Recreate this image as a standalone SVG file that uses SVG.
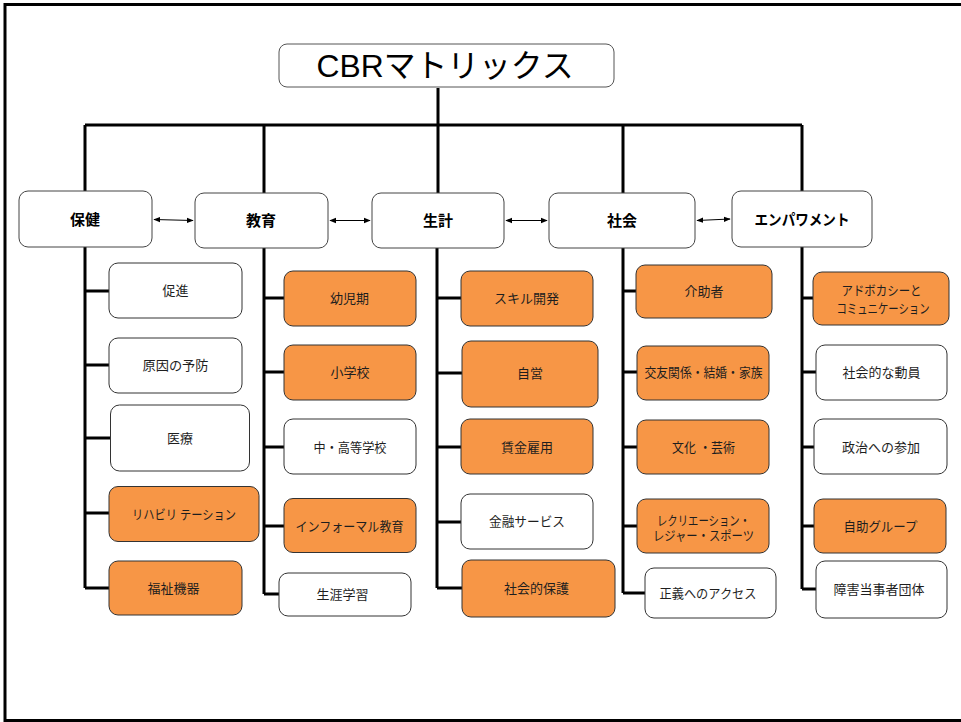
<svg xmlns="http://www.w3.org/2000/svg" width="961" height="722" viewBox="0 0 961 722">
<defs>
<style>
text{font-family:"Liberation Sans","Noto Sans CJK JP",sans-serif;text-anchor:middle;fill:#1e1e1e}
.t{font-size:13px}
.c{font-size:15px;font-weight:bold;fill:#000}
.title{font-size:32px;fill:#000}
.w{fill:#fff;stroke:#333;stroke-width:1}
.o{fill:#F79646;stroke:#333;stroke-width:1}
.cat{fill:#fff;stroke:#444;stroke-width:1}
.ln{fill:none;stroke:#000;stroke-width:3}
.ar{fill:none;stroke:#000;stroke-width:1;marker-start:url(#ah);marker-end:url(#ah)}
</style>
<marker id="ah" viewBox="0 0 10 10" refX="9" refY="5" markerWidth="7" markerHeight="7" orient="auto-start-reverse" markerUnits="userSpaceOnUse"><path d="M0,1 L10,5 L0,9 Z" fill="#000"/></marker>
</defs>
<rect x="0" y="0" width="961" height="722" fill="#fff"/>
<rect x="5" y="4.5" width="980" height="716" fill="none" stroke="#000" stroke-width="3"/>

<g id="connectors">
<path class="ln" d="M438,88 V125 M85,125 H802 M85,125 V191 M264,125 V193 M438,125 V193 M623,125 V193 M802,125 V191"/>
<path class="ln" d="M85,247 V588 M85,291 H109 M85,365 H109 M85,438 H110 M85,513 H109 M85,588 H109"/>
<path class="ln" d="M264,248 V594 M264,298 H284 M264,372 H284 M264,447 H284 M264,526 H284 M264,594 H279"/>
<path class="ln" d="M437,248 V588 M437,298 H461 M437,373 H462 M437,447 H461 M437,522 H461 M437,588 H462"/>
<path class="ln" d="M623,248 V593 M623,291 H636 M623,372 H637 M623,447 H637 M623,526 H637 M623,593 H645"/>
<path class="ln" d="M802,247 V589 M802,298 H813 M802,372 H816 M802,447 H814 M802,526 H814 M802,589 H816"/>
<path class="ar" d="M154,219.5 L193,220.5"/>
<path class="ar" d="M330,220.5 L370,220.5"/>
<path class="ar" d="M506,220.5 L547,220.5"/>
<path class="ar" d="M697,220.5 L730,219"/>
</g>

<g id="title"><rect x="279" y="44" width="335" height="43" rx="8" fill="#fff" stroke="#555" stroke-width="1"/><text class="title" x="445" y="77" textLength="257" lengthAdjust="spacingAndGlyphs">CBRマトリックス</text></g>

<g id="cat-hoken"><rect class="cat" x="19" y="191" width="133" height="56" rx="9"/><text class="c" x="85" y="224.5">保健</text></g>
<g id="cat-kyoiku"><rect class="cat" x="195" y="193" width="133" height="55" rx="9"/><text class="c" x="261" y="226">教育</text></g>
<g id="cat-seikei"><rect class="cat" x="372" y="193" width="132" height="55" rx="9"/><text class="c" x="438" y="226">生計</text></g>
<g id="cat-shakai"><rect class="cat" x="549" y="193" width="146" height="55" rx="9"/><text class="c" x="622" y="226">社会</text></g>
<g id="cat-empower"><rect class="cat" x="732" y="191" width="140" height="56" rx="9"/><text class="c" x="802" y="224.5" textLength="95" lengthAdjust="spacingAndGlyphs">エンパワメント</text></g>

<g id="n-sokushin"><rect class="w" x="109" y="263" width="133" height="55" rx="9"/><text class="t" x="175.5" y="295">促進</text></g>
<g id="n-yobou"><rect class="w" x="109" y="338" width="133" height="55" rx="9"/><text class="t" x="175.5" y="370" textLength="66" lengthAdjust="spacingAndGlyphs">原因の予防</text></g>
<g id="n-iryou"><rect class="w" x="110.5" y="405" width="139" height="66" rx="9"/><text class="t" x="180" y="442.5">医療</text></g>
<g id="n-riha"><rect class="o" x="109" y="486.5" width="150" height="55" rx="9"/><text class="t" x="184" y="518.5" textLength="104" lengthAdjust="spacingAndGlyphs">リハビリ テーション</text></g>
<g id="n-fukushi"><rect class="o" x="109" y="561" width="133" height="54" rx="9"/><text class="t" x="173.5" y="592.5">福祉機器</text></g>

<g id="n-youji"><rect class="o" x="284" y="271" width="132" height="55" rx="9"/><text class="t" x="349.5" y="303">幼児期</text></g>
<g id="n-shou"><rect class="o" x="284" y="345" width="132" height="55" rx="9"/><text class="t" x="350" y="377">小学校</text></g>
<g id="n-chuukou"><rect class="w" x="284" y="419" width="132" height="55" rx="9"/><text class="t" x="350" y="451.5" textLength="73" lengthAdjust="spacingAndGlyphs">中・高等学校</text></g>
<g id="n-informal"><rect class="o" x="284" y="498.5" width="132" height="54" rx="9"/><text class="t" x="349.5" y="530.5" textLength="108" lengthAdjust="spacingAndGlyphs">インフォーマル教育</text></g>
<g id="n-shougai"><rect class="w" x="279" y="573" width="132" height="43" rx="9"/><text class="t" x="342.5" y="599">生涯学習</text></g>

<g id="n-skill"><rect class="o" x="461" y="271" width="132" height="55" rx="9"/><text class="t" x="526.5" y="303">スキル開発</text></g>
<g id="n-jiei"><rect class="o" x="462" y="341" width="136" height="66" rx="9"/><text class="t" x="530" y="378">自営</text></g>
<g id="n-chingin"><rect class="o" x="461" y="419" width="132" height="55" rx="9"/><text class="t" x="527" y="452">賃金雇用</text></g>
<g id="n-kinyuu"><rect class="w" x="461" y="494" width="132" height="55" rx="9"/><text class="t" x="527" y="526" textLength="76" lengthAdjust="spacingAndGlyphs">金融サービス</text></g>
<g id="n-hogo"><rect class="o" x="462" y="560" width="153" height="57" rx="9"/><text class="t" x="536.5" y="593">社会的保護</text></g>

<g id="n-kaijo"><rect class="o" x="636" y="265" width="136" height="53" rx="9"/><text class="t" x="704" y="296">介助者</text></g>
<g id="n-kouyuu"><rect class="o" x="637" y="346" width="132" height="54" rx="9"/><text class="t" x="703.5" y="377" textLength="118" lengthAdjust="spacingAndGlyphs">交友関係・結婚・家族</text></g>
<g id="n-bunka"><rect class="o" x="637" y="420" width="132" height="54" rx="9"/><text class="t" x="703.5" y="452" textLength="63" lengthAdjust="spacingAndGlyphs">文化 ・芸術</text></g>
<g id="n-rec"><rect class="o" x="637" y="499" width="132" height="54" rx="9"/><text class="t" x="703.5" y="524.5" textLength="93" lengthAdjust="spacingAndGlyphs">レクリエーション・</text><text class="t" x="703.5" y="539.5" textLength="101" lengthAdjust="spacingAndGlyphs">レジャー・スポーツ</text></g>
<g id="n-seigi"><rect class="w" x="645" y="568" width="131" height="50" rx="9"/><text class="t" x="708" y="598" textLength="97" lengthAdjust="spacingAndGlyphs">正義へのアクセス</text></g>

<g id="n-advocacy"><rect class="o" x="813" y="272" width="136" height="53" rx="9"/><text class="t" x="881.5" y="294.5" textLength="80" lengthAdjust="spacingAndGlyphs">アドボカシーと</text><text class="t" x="883" y="313" textLength="93" lengthAdjust="spacingAndGlyphs">コミュニケーション</text></g>
<g id="n-douin"><rect class="w" x="816" y="345" width="131" height="55" rx="9"/><text class="t" x="881.5" y="377">社会的な動員</text></g>
<g id="n-seiji"><rect class="w" x="814" y="419" width="133" height="55" rx="9"/><text class="t" x="881" y="451.5">政治への参加</text></g>
<g id="n-jijo"><rect class="o" x="814" y="499" width="132" height="54" rx="9"/><text class="t" x="880.5" y="530.5" textLength="74" lengthAdjust="spacingAndGlyphs">自助グループ</text></g>
<g id="n-toujisha"><rect class="w" x="816" y="561" width="131" height="57" rx="9"/><text class="t" x="879" y="594">障害当事者団体</text></g>
</svg>
